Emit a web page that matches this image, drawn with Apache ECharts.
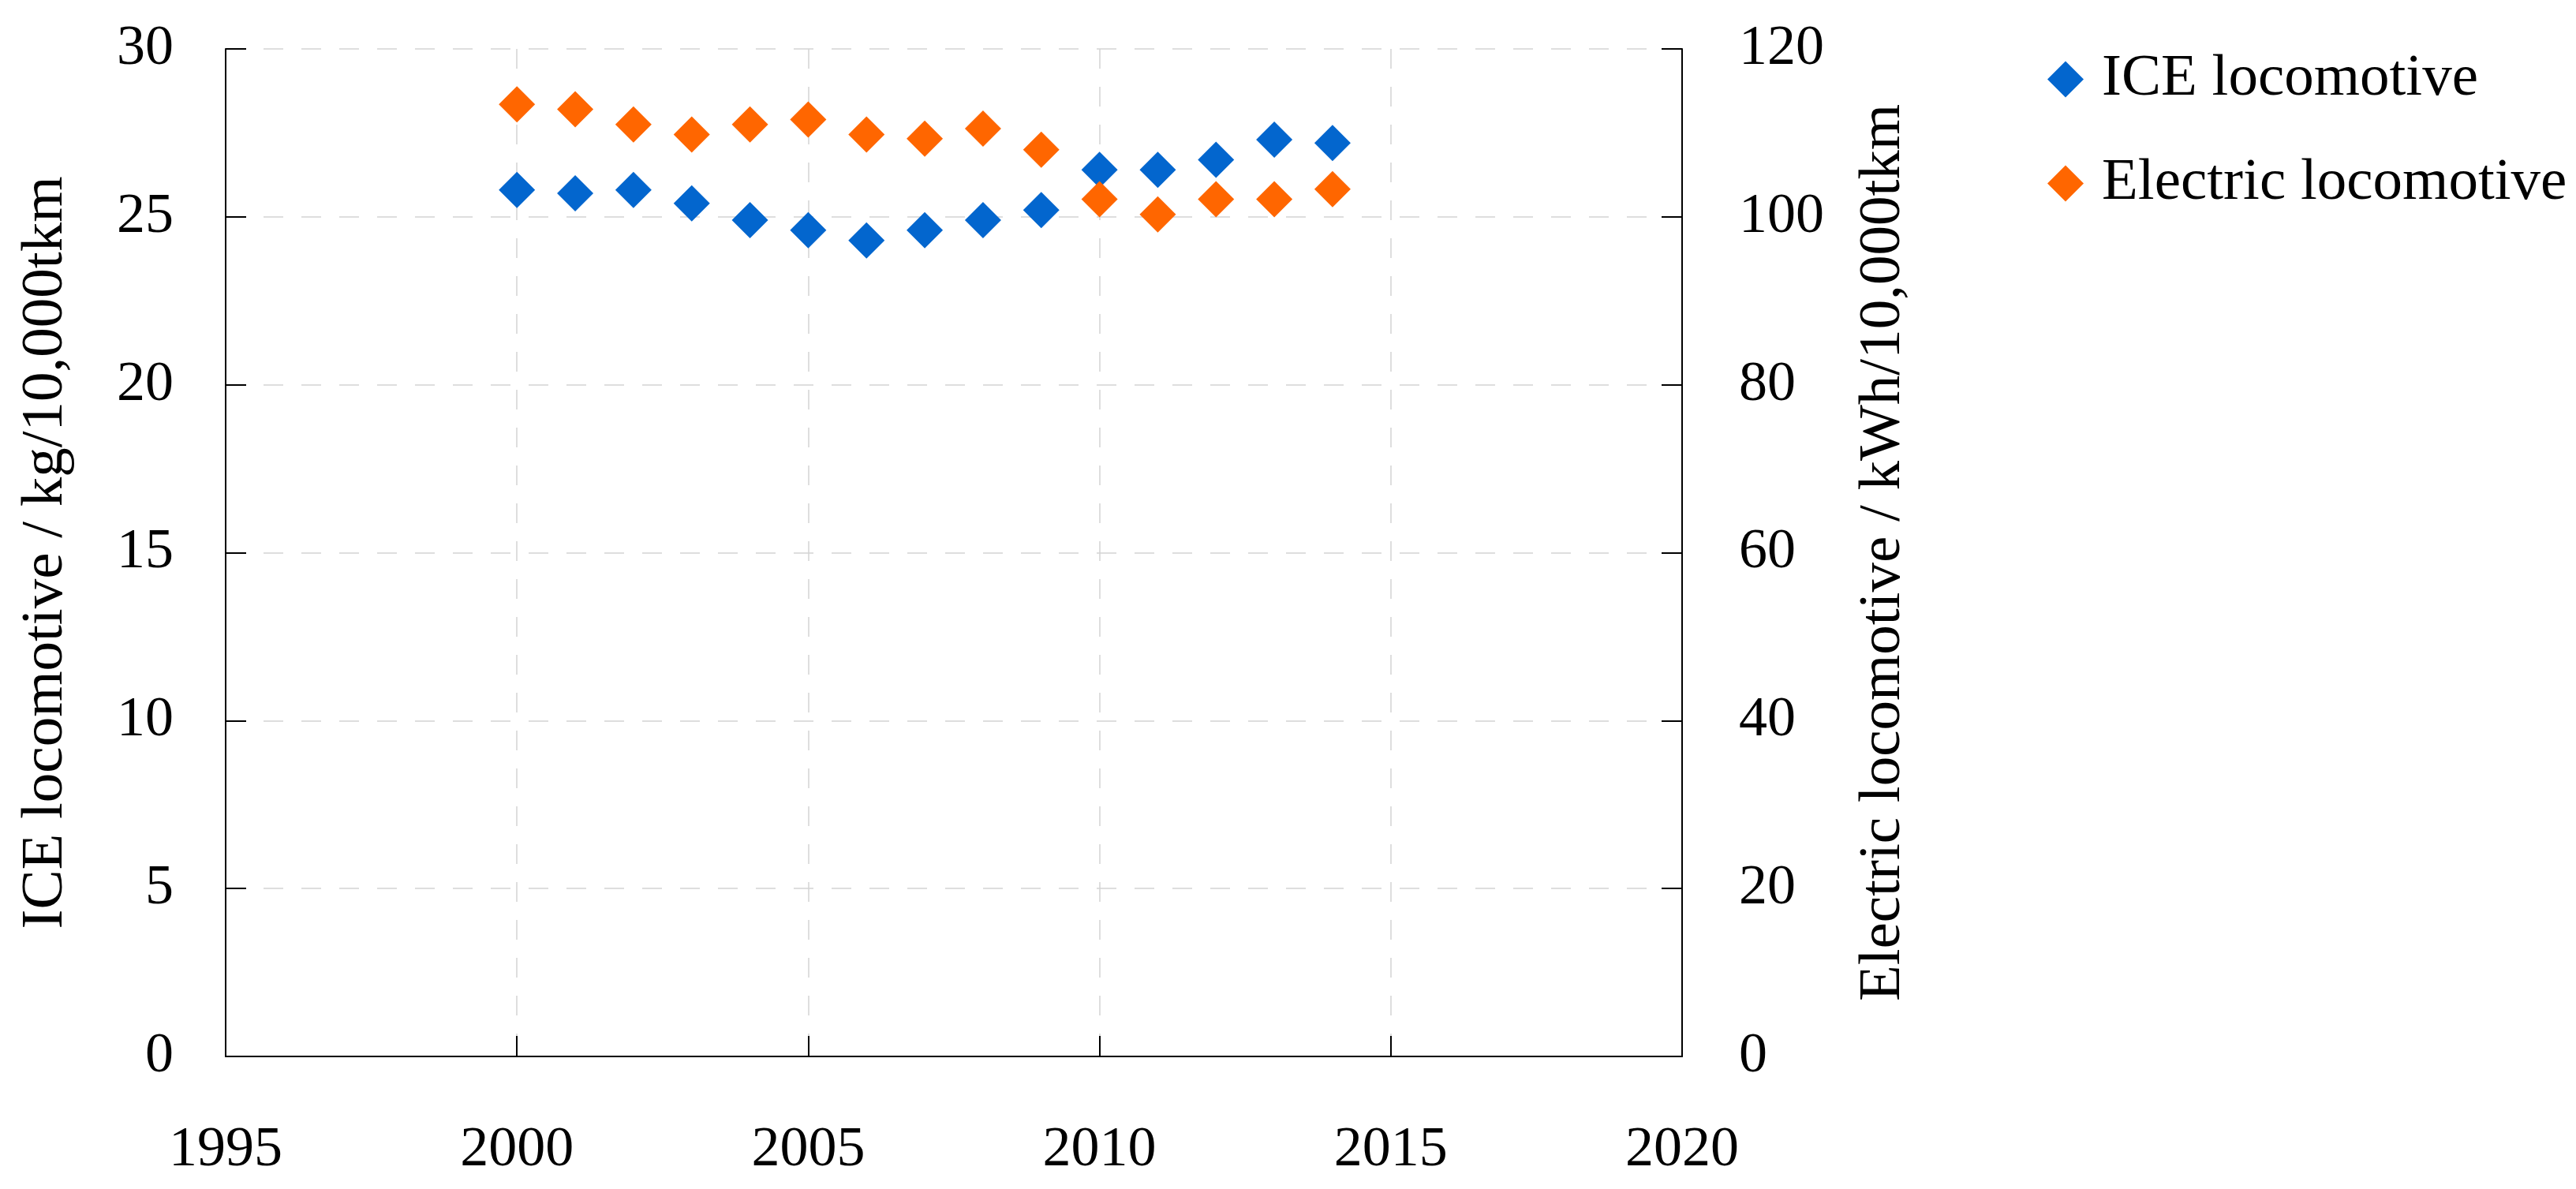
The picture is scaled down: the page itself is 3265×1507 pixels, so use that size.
<!DOCTYPE html>
<html>
<head>
<meta charset="utf-8">
<script src="https://cdn.jsdelivr.net/npm/echarts@6/dist/echarts.min.js"></script>
<style>
html,body{margin:0;padding:0;background:#fff;}
#chart{width:3265px;height:1507px;}
</style>
</head>
<body>
<div id="chart"></div>
<script>
const years = [2000, 2001, 2002, 2003, 2004, 2005, 2006, 2007, 2008, 2009, 2010, 2011, 2012, 2013, 2014];
const iceValues = [25.8, 25.7, 25.8, 25.4, 24.9, 24.6, 24.3, 24.6, 24.9, 25.2, 26.4, 26.4, 26.7, 27.3, 27.2];
const electricValues = [113.4, 112.8, 111.0, 109.8, 111.0, 111.6, 109.8, 109.3, 110.5, 108.0, 102.1, 100.3, 102.1, 102.1, 103.3];
const seriesNames = ['ICE locomotive', 'Electric locomotive'];
const leftAxisName = 'ICE locomotive / kg/10,000tkm';
const rightAxisName = 'Electric locomotive / kWh/10,000tkm';

const FONT = 'Liberation Serif';
const chart = echarts.init(document.getElementById('chart'));
const gridLine = {show: true, lineStyle: {color: '#d3d3d3', width: 1.5, type: [25, 23]}};
const axisLineStyle = {show: true, lineStyle: {color: '#000', width: 2}};
const tickStyle = {show: true, inside: true, length: 26, lineStyle: {color: '#000', width: 2}};

chart.setOption({
  backgroundColor: '#fff',
  animation: false,
  grid: {left: 286, right: 1133, top: 62, bottom: 168, containLabel: false},
  legend: {
    orient: 'vertical',
    left: 2590,
    top: 58,
    itemWidth: 46,
    itemHeight: 46,
    itemGap: 57,
    icon: 'diamond',
    textStyle: {fontFamily: FONT, fontSize: 75, color: '#000', padding: [0, 0, 0, 18]},
    data: seriesNames
  },
  xAxis: {
    type: 'value',
    min: 1995, max: 2020, interval: 5,
    axisLine: axisLineStyle,
    axisTick: tickStyle,
    splitLine: gridLine,
    axisLabel: {fontFamily: FONT, fontSize: 72, color: '#000', margin: 83, formatter: v => String(v)}
  },
  yAxis: [
    {
      type: 'value',
      min: 0, max: 30, interval: 5,
      position: 'left',
      name: leftAxisName,
      nameLocation: 'middle',
      nameGap: 190,
      nameTextStyle: {fontFamily: FONT, fontSize: 75, color: '#000'},
      axisLine: axisLineStyle,
      axisTick: tickStyle,
      splitLine: gridLine,
      axisLabel: {fontFamily: FONT, fontSize: 72, color: '#000', margin: 66}
    },
    {
      type: 'value',
      min: 0, max: 120, interval: 20,
      position: 'right',
      name: rightAxisName,
      nameLocation: 'middle',
      nameGap: 218,
      nameTextStyle: {fontFamily: FONT, fontSize: 75, color: '#000'},
      axisLine: axisLineStyle,
      axisTick: tickStyle,
      splitLine: {show: false},
      axisLabel: {fontFamily: FONT, fontSize: 72, color: '#000', margin: 72}
    }
  ],
  series: [
    {
      name: seriesNames[0],
      type: 'scatter',
      yAxisIndex: 0,
      symbol: 'diamond',
      symbolSize: 46,
      itemStyle: {color: '#0366CE', opacity: 1},
      data: years.map((y, i) => [y, iceValues[i]])
    },
    {
      name: seriesNames[1],
      type: 'scatter',
      yAxisIndex: 1,
      symbol: 'diamond',
      symbolSize: 46,
      itemStyle: {color: '#FF6600', opacity: 1},
      data: years.map((y, i) => [y, electricValues[i]])
    }
  ]
});
</script>
</body>
</html>
